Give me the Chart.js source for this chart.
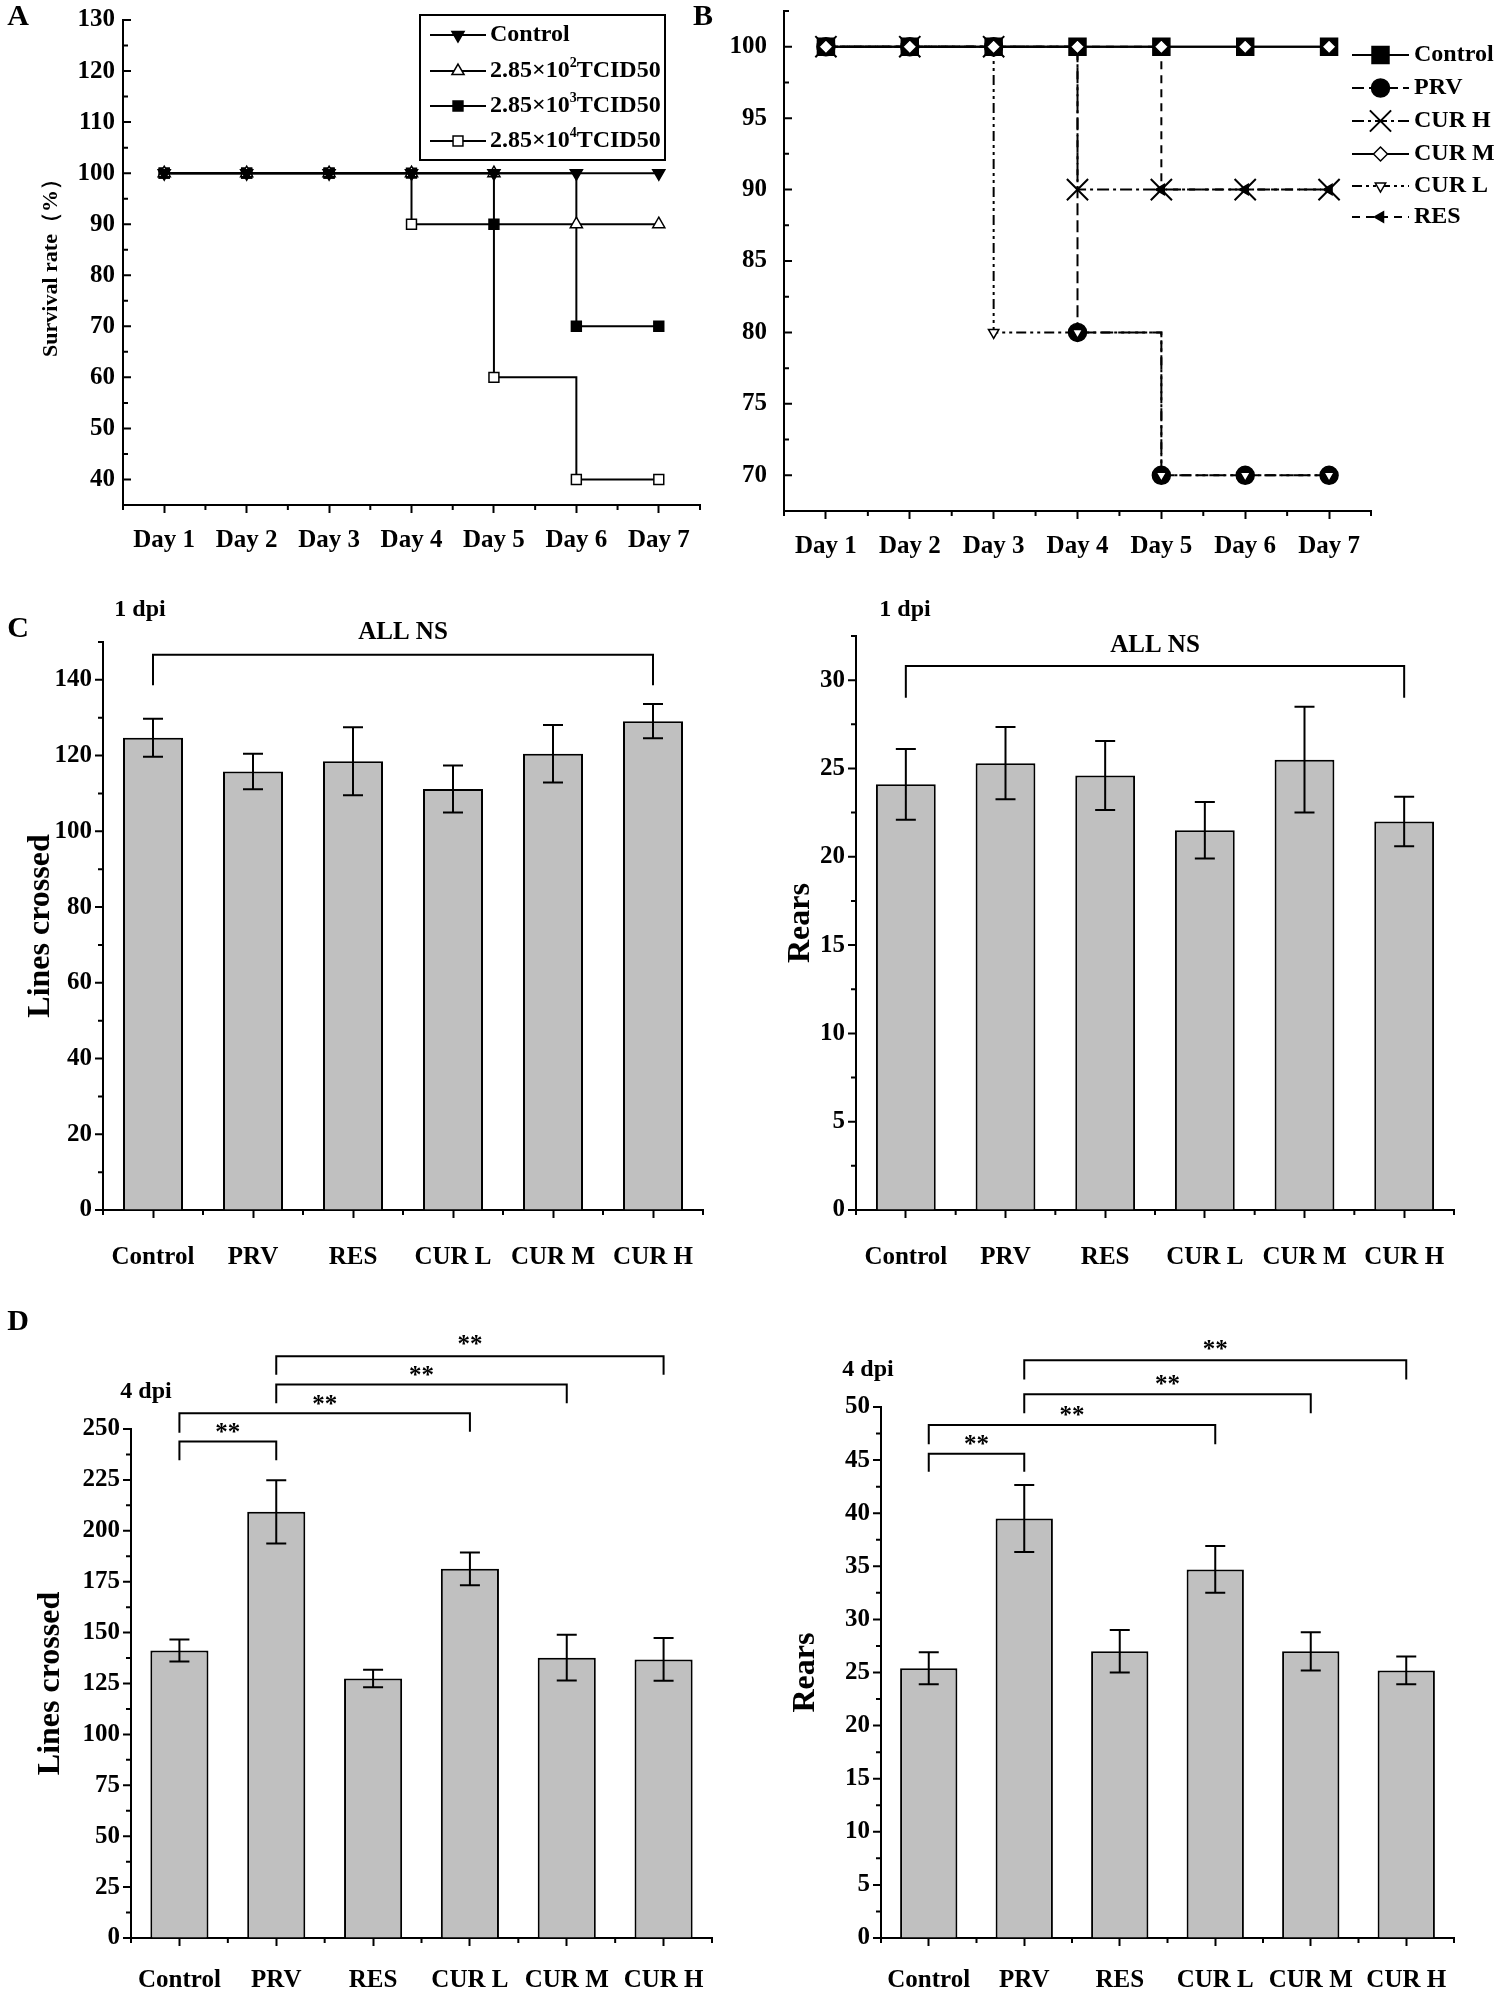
<!DOCTYPE html>
<html>
<head>
<meta charset="utf-8">
<title>Survival rate and open field test</title>
<script src="https://cdn.jsdelivr.net/npm/chart.js@4.4.1/dist/chart.umd.min.js"></script>
<style>
  html, body { margin: 0; padding: 0; background: #fff; overflow: hidden; }
  #page { position: relative; width: 1499px; height: 1994px; }
  #page canvas { position: absolute; }
  .txt { position: absolute; transform: translate(-50%, -50%); font-family: "Liberation Serif", "Times New Roman", serif;
         font-weight: bold; color: #000; white-space: nowrap; line-height: 1; }
</style>
</head>
<body>
<div id="page">
  <canvas id="chartA"></canvas>
  <canvas id="chartB"></canvas>
  <canvas id="chartC1"></canvas>
  <canvas id="chartC2"></canvas>
  <canvas id="chartD1"></canvas>
  <canvas id="chartD2"></canvas>
  <div class="txt" style="left:18px;top:15px;font-size:30px">A</div>
  <div class="txt" style="left:703px;top:15px;font-size:30px">B</div>
  <div class="txt" style="left:18px;top:627px;font-size:30px">C</div>
  <div class="txt" style="left:18px;top:1320px;font-size:30px">D</div>
  <div class="txt" style="left:140px;top:608px;font-size:24px">1 dpi</div>
  <div class="txt" style="left:905px;top:608px;font-size:24px">1 dpi</div>
  <div class="txt" style="left:146px;top:1390px;font-size:24px">4 dpi</div>
  <div class="txt" style="left:868px;top:1368px;font-size:24px">4 dpi</div>
</div>
<script>
var SERIF = '"Liberation Serif", "Times New Roman", serif';

// ---- datos ----
var days = ['Day 1', 'Day 2', 'Day 3', 'Day 4', 'Day 5', 'Day 6', 'Day 7'];
var groups = ['Control', 'PRV', 'RES', 'CUR L', 'CUR M', 'CUR H'];

// A: supervivencia segun la dosis de virus (^ marca el superindice)
var aLabels = ['Control', '2.85×10^2TCID50', '2.85×10^3TCID50', '2.85×10^4TCID50'];
var aControl = [100, 100, 100, 100, 100, 100, 100];
var aDose2 = [100, 100, 100, 100, 100, 90, 90];
var aDose3 = [100, 100, 100, 100, 90, 70, 70];
var aDose4 = [100, 100, 100, 90, 60, 40, 40];

// B: supervivencia con tratamiento
var bLabels = ['Control', 'PRV', 'CUR H', 'CUR M', 'CUR L', 'RES'];
var bControl = [100, 100, 100, 100, 100, 100, 100];
var bPRV = [100, 100, 100, 80, 70, 70, 70];
var bCurH = [100, 100, 100, 90, 90, 90, 90];
var bCurM = [100, 100, 100, 100, 100, 100, 100];
var bCurL = [100, 100, 80, 80, 70, 70, 70];
var bRes = [100, 100, 100, 100, 90, 90, 90];

// C: 1 dpi (media y desviacion)
var c1Lines = [124.7, 115.8, 118.5, 111.2, 120.5, 129.1];
var c1LinesSd = [5.0, 4.7, 9.0, 6.2, 7.6, 4.5];
var c1Rears = [24.1, 25.3, 24.6, 21.5, 25.5, 22.0];
var c1RearsSd = [2.0, 2.05, 1.95, 1.6, 3.0, 1.4];

// D: 4 dpi
var d4Lines = [141.2, 209.3, 127.5, 181.3, 137.7, 136.8];
var d4LinesSd = [5.4, 15.5, 4.3, 8.0, 11.2, 10.5];
var d4Rears = [25.4, 39.5, 27.0, 34.7, 27.0, 25.2];
var d4RearsSd = [1.5, 3.15, 2.0, 2.2, 1.8, 1.3];

// corchetes de significacion: [desde, hasta, linea, pie izq, pie der, texto, altura texto]
var c1LinesSig = [[0, 5, 146.6, 138.6, 138.6, 'ALL NS', 153]];
var c1RearsSig = [[0, 5, 30.8, 29.0, 29.0, 'ALL NS', 32.1]];
var d4LinesSig = [
  [0, 1, 243.8, 234.6, 234.6, '**', 250.4],
  [0, 3, 257.7, 248.2, 248.7, '**', 264.0],
  [1, 4, 271.8, 262.6, 262.6, '**', 278.6],
  [1, 5, 285.7, 276.7, 276.7, '**', 293.4]
];
var d4RearsSig = [
  [0, 1, 45.6, 43.9, 43.9, '**', 46.9],
  [0, 3, 48.3, 46.5, 46.5, '**', 49.6],
  [1, 4, 51.2, 49.4, 49.4, '**', 52.5],
  [1, 5, 54.4, 52.6, 52.6, '**', 55.8]
];

Chart.defaults.font.family = SERIF;
Chart.defaults.font.weight = 'bold';
Chart.defaults.font.size = 25;
Chart.defaults.color = '#000';

// coloca el canvas en la pagina
function place(id, box) {
  var cv = document.getElementById(id);
  cv.width = box.w; cv.height = box.h;
  cv.style.left = box.x + 'px'; cv.style.top = box.y + 'px';
  cv.style.width = box.w + 'px'; cv.style.height = box.h + 'px';
  return cv;
}

function fixScale(size, horiz) {
  return function (s) {
    if (horiz) s.height = size; else s.width = size;
    s.paddingLeft = s.paddingRight = s.paddingTop = s.paddingBottom = 0;
  };
}

function majorOnly(step) {
  return function (v) {
    return Math.abs(v / step - Math.round(v / step)) < 1e-6 ? Math.round(v) : '';
  };
}

function baseOptions(box, area, o) {
  return {
    responsive: false,
    animation: false,
    layout: { padding: { left: 0, bottom: 0, top: area.t - box.y, right: box.x + box.w - area.r } },
    plugins: { legend: { display: false }, tooltip: { enabled: false } },
    scales: {
      x: {
        type: 'category', offset: true,
        grid: { offset: false, drawOnChartArea: false, drawTicks: true, tickLength: 8, tickWidth: 2, tickColor: '#000' },
        border: { color: '#000', width: 2 },
        ticks: { padding: o.xPad, autoSkip: false, maxRotation: 0, minRotation: 0 },
        afterFit: fixScale(box.y + box.h - area.b, true)
      },
      y: {
        min: o.min, max: o.max,
        grid: { drawOnChartArea: false, drawTicks: false },
        border: { color: '#000', width: 2 },
        // paso menor, solo se rotulan los mayores
        ticks: { stepSize: o.minor, maxTicksLimit: 100, autoSkip: false, padding: o.yPad, callback: majorOnly(o.major) },
        title: {
          display: !!o.title, text: o.title || '',
          font: { size: o.titleSize || 25 },
          padding: { top: o.title ? o.titleX - box.x - o.titleSize * 0.6 : 0, bottom: 0 }
        },
        afterFit: fixScale(area.l - box.x, false)
      }
    }
  };
}

// marcas menores y mayores del eje y, menores del eje x
function tickPlugin(major, minor, inward) {
  return {
    id: 'tk',
    afterDraw: function (chart) {
      var ctx = chart.ctx, a = chart.chartArea, y = chart.scales.y, x = chart.scales.x;
      var dir = inward ? 1 : -1;
      ctx.save();
      ctx.strokeStyle = '#000'; ctx.lineWidth = 2;
      ctx.beginPath();
      var k0 = Math.ceil(y.min / minor - 1e-6), k1 = Math.floor(y.max / minor + 1e-6);
      for (var k = k0; k <= k1; k++) {
        var v = k * minor, py = y.getPixelForValue(v);
        var big = Math.abs(v / major - Math.round(v / major)) < 1e-6;
        ctx.moveTo(a.left, py); ctx.lineTo(a.left + dir * (big ? 8 : 5), py);
      }
      var n = chart.data.labels.length;
      for (var i = 0; i <= n; i++) {
        var px = i === 0 ? a.left : (i === n ? a.right : (x.getPixelForValue(i - 1) + x.getPixelForValue(i)) / 2);
        ctx.moveTo(px, a.bottom); ctx.lineTo(px, a.bottom + 5);
      }
      ctx.stroke();
      ctx.restore();
    }
  };
}

function drawLabel(ctx, text, x, y, size) {
  var parts = text.split('^');
  ctx.textAlign = 'left'; ctx.textBaseline = 'middle';
  ctx.font = 'bold ' + size + 'px ' + SERIF;
  ctx.fillText(parts[0], x, y);
  if (parts.length < 2) return;
  x += ctx.measureText(parts[0]).width;
  var sup = parts[1].charAt(0), rest = parts[1].slice(1);
  ctx.font = 'bold ' + Math.round(size * 0.6) + 'px ' + SERIF;
  ctx.fillText(sup, x, y - size * 0.3);
  x += ctx.measureText(sup).width;
  ctx.font = 'bold ' + size + 'px ' + SERIF;
  ctx.fillText(rest, x, y);
}

function legendPlugin(cfg) {
  return {
    id: 'legend2',
    afterDraw: function (chart) {
      var ctx = chart.ctx;
      ctx.save();
      if (cfg.frame) {
        ctx.fillStyle = '#fff';
        ctx.fillRect(cfg.frame[0], cfg.frame[1], cfg.frame[2], cfg.frame[3]);
        ctx.strokeStyle = '#000'; ctx.lineWidth = 2;
        ctx.strokeRect(cfg.frame[0], cfg.frame[1], cfg.frame[2], cfg.frame[3]);
      }
      chart.data.datasets.forEach(function (ds, i) {
        var y = cfg.rows[i];
        ctx.strokeStyle = '#000'; ctx.lineWidth = 2;
        ctx.setLineDash(ds.borderDash || []);
        ctx.beginPath(); ctx.moveTo(cfg.x0, y); ctx.lineTo(cfg.x1, y); ctx.stroke();
        ctx.setLineDash([]);
        ctx.fillStyle = ds.pointBackgroundColor;
        ctx.lineWidth = ds.pointBorderWidth;
        Chart.helpers.drawPoint(ctx, {
          pointStyle: ds.pointStyle, rotation: ds.pointRotation,
          radius: ds.pointRadius, borderWidth: ds.pointBorderWidth
        }, (cfg.x0 + cfg.x1) / 2, y);
        ctx.fillStyle = '#000';
        drawLabel(ctx, ds.label, cfg.tx, y, cfg.size);
      });
      ctx.restore();
    }
  };
}

function errPlugin(sd) {
  return {
    id: 'err',
    afterDatasetsDraw: function (chart) {
      var ctx = chart.ctx, y = chart.scales.y;
      var meta = chart.getDatasetMeta(0), vals = chart.data.datasets[0].data;
      ctx.save();
      ctx.strokeStyle = '#000'; ctx.lineWidth = 2;
      ctx.beginPath();
      meta.data.forEach(function (bar, i) {
        var top = y.getPixelForValue(vals[i] + sd[i]), bot = y.getPixelForValue(vals[i] - sd[i]);
        ctx.moveTo(bar.x, top); ctx.lineTo(bar.x, bot);
        ctx.moveTo(bar.x - 10, top); ctx.lineTo(bar.x + 10, top);
        ctx.moveTo(bar.x - 10, bot); ctx.lineTo(bar.x + 10, bot);
      });
      ctx.stroke();
      ctx.restore();
    }
  };
}

function sigPlugin(items) {
  return {
    id: 'sig',
    afterDraw: function (chart) {
      var ctx = chart.ctx, x = chart.scales.x, y = chart.scales.y;
      ctx.save();
      ctx.strokeStyle = '#000'; ctx.fillStyle = '#000'; ctx.lineWidth = 2;
      ctx.textAlign = 'center'; ctx.textBaseline = 'alphabetic';
      items.forEach(function (it) {
        var x1 = x.getPixelForValue(it[0]), x2 = x.getPixelForValue(it[1]);
        var yl = y.getPixelForValue(it[2]);
        ctx.beginPath();
        ctx.moveTo(x1, y.getPixelForValue(it[3])); ctx.lineTo(x1, yl);
        ctx.lineTo(x2, yl); ctx.lineTo(x2, y.getPixelForValue(it[4]));
        ctx.stroke();
        var size = 25;
        ctx.font = 'bold ' + size + 'px ' + SERIF;
        var lift = it[5].indexOf('*') >= 0 ? 0.47 : 0.34;
        ctx.fillText(it[5], (x1 + x2) / 2, y.getPixelForValue(it[6]) + lift * size);
      });
      ctx.restore();
    }
  };
}

function lineSet(label, data, s) {
  return {
    label: label, data: data, stepped: true, fill: false,
    borderColor: '#000', borderWidth: 2, borderDash: s.dash || [],
    pointStyle: s.style, pointRotation: s.rot || 0, pointRadius: s.r,
    pointBackgroundColor: s.fill, pointBorderColor: '#000', pointBorderWidth: s.bw || 1.5,
    order: s.order
  };
}

function barChart(id, box, area, o) {
  new Chart(place(id, box), {
    type: 'bar',
    data: {
      labels: groups,
      datasets: [{ data: o.data, backgroundColor: '#c0c0c0', borderColor: '#000', borderWidth: 2,
                   barPercentage: 0.6, categoryPercentage: 1 }]
    },
    options: baseOptions(box, area, o),
    plugins: [tickPlugin(o.major, o.minor, false), errPlugin(o.sd), sigPlugin(o.sig)]
  });
}

// ---- A ----
var boxA = { x: 0, y: 0, w: 745, h: 570 }, areaA = { l: 123, t: 20, r: 700, b: 505 };
new Chart(place('chartA', boxA), {
  type: 'line',
  data: {
    labels: days,
    datasets: [
      lineSet(aLabels[0], aControl, { style: 'triangle', rot: 180, fill: '#000', r: 7, order: 0 }),
      lineSet(aLabels[1], aDose2, { style: 'triangle', fill: '#fff', r: 7, order: 1 }),
      lineSet(aLabels[2], aDose3, { style: 'rect', fill: '#000', r: 7, order: 1 }),
      lineSet(aLabels[3], aDose4, { style: 'rect', fill: '#fff', r: 7, order: 1 })
    ]
  },
  options: baseOptions(boxA, areaA, { min: 35, max: 130, major: 10, minor: 5, xPad: 13, yPad: 8,
                                      title: 'Survival rate（%）', titleSize: 22, titleX: 51 }),
  plugins: [tickPlugin(10, 5, true),
            legendPlugin({ frame: [420, 15, 245, 145], rows: [35, 71, 106, 141], x0: 430, x1: 486, tx: 490, size: 24 })]
});

// ---- B ----
var boxB = { x: 690, y: -10, w: 809, h: 580 }, areaB = { l: 784, t: 11, r: 1371, b: 511 };
new Chart(place('chartB', boxB), {
  type: 'line',
  data: {
    labels: days,
    datasets: [
      lineSet(bLabels[0], bControl, { style: 'rect', fill: '#000', r: 12, order: 3 }),
      lineSet(bLabels[1], bPRV, { style: 'circle', fill: '#000', r: 9, dash: [12, 5], order: 3 }),
      lineSet(bLabels[2], bCurH, { style: 'crossRot', fill: '#000', r: 15, bw: 2, dash: [12, 4, 3, 4], order: 2 }),
      lineSet(bLabels[3], bCurM, { style: 'rectRot', fill: '#fff', r: 7, order: 1 }),
      lineSet(bLabels[4], bCurL, { style: 'triangle', rot: 180, fill: '#fff', r: 6, dash: [10, 4, 3, 4, 3, 4], order: 1 }),
      lineSet(bLabels[5], bRes, { style: 'triangle', rot: -90, fill: '#000', r: 6, dash: [8, 6], order: 1 })
    ]
  },
  options: baseOptions(boxB, areaB, { min: 67.5, max: 102.5, major: 5, minor: 2.5, xPad: 13, yPad: 17 }),
  plugins: [tickPlugin(5, 2.5, true),
            legendPlugin({ rows: [65, 98, 131, 164, 196, 227], x0: 662, x1: 719, tx: 724, size: 24 })]
});

// ---- C y D ----
barChart('chartC1', { x: 0, y: 590, w: 745, h: 700 }, { l: 103, t: 642, r: 703, b: 1210 },
  { data: c1Lines, sd: c1LinesSd, sig: c1LinesSig, min: 0, max: 150, major: 20, minor: 10,
    xPad: 25, yPad: 11, title: 'Lines crossed', titleSize: 32, titleX: 41 });
barChart('chartC2', { x: 745, y: 590, w: 754, h: 700 }, { l: 856, t: 636, r: 1454, b: 1210 },
  { data: c1Rears, sd: c1RearsSd, sig: c1RearsSig, min: 0, max: 32.5, major: 5, minor: 2.5,
    xPad: 25, yPad: 11, title: 'Rears', titleSize: 32, titleX: 801 });
barChart('chartD1', { x: 0, y: 1290, w: 745, h: 704 }, { l: 131, t: 1429, r: 712, b: 1938 },
  { data: d4Lines, sd: d4LinesSd, sig: d4LinesSig, min: 0, max: 250, major: 25, minor: 12.5,
    xPad: 20, yPad: 11, title: 'Lines crossed', titleSize: 32, titleX: 51 });
barChart('chartD2', { x: 745, y: 1290, w: 754, h: 704 }, { l: 881, t: 1407, r: 1454, b: 1938 },
  { data: d4Rears, sd: d4RearsSd, sig: d4RearsSig, min: 0, max: 50, major: 5, minor: 2.5,
    xPad: 20, yPad: 11, title: 'Rears', titleSize: 32, titleX: 806 });
</script>
</body>
</html>
